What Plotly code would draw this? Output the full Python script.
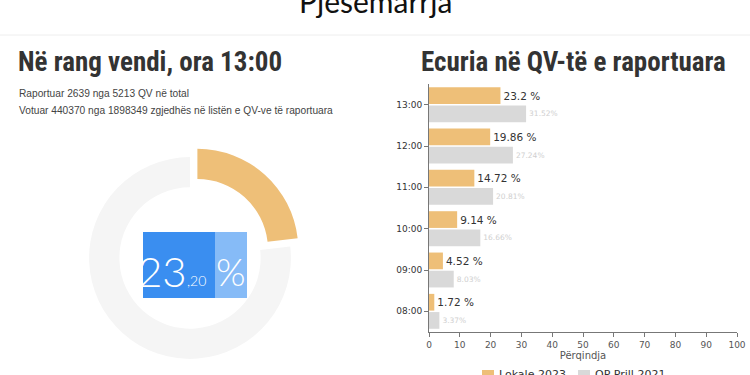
import plotly.graph_objects as go

# ---- data ----
hours = ["13:00", "12:00", "11:00", "10:00", "09:00", "08:00"]
turnout_2023 = [23.2, 19.86, 14.72, 9.14, 4.52, 1.72]
turnout_2021 = [31.52, 27.24, 20.81, 16.66, 8.03, 3.37]
series_names = ["Lokale 2023", "QP Prill 2021"]
donut_labels = ["Votuar", "Pa votuar"]
donut_values = [23.20, 76.80]
x_ticks = [0, 10, 20, 30, 40, 50, 60, 70, 80, 90, 100]

ORANGE = "#eebf78"
GRAY = "#d9d9d9"
W, H = 750, 375

def px(x):
    return x / W

def py(y):
    return 1 - y / H

fig = go.Figure()

# donut
fig.add_trace(go.Pie(
    labels=donut_labels, values=donut_values, hole=0.7, sort=False,
    direction="clockwise", rotation=0, pull=[0.11, 0],
    marker=dict(colors=[ORANGE, "#f5f5f5"], line=dict(width=0)),
    textinfo="none", hoverinfo="label+value", showlegend=False,
    domain=dict(x=[px(78), px(302)], y=[py(370), py(146)]),
))

# bars
fig.add_trace(go.Bar(
    y=hours, x=turnout_2023, orientation="h", name=series_names[0],
    marker=dict(color=ORANGE, line=dict(width=0)),
    text=[f"{v:g} %" for v in turnout_2023], textposition="outside",
    textfont=dict(family="DejaVu Sans", size=10.5, color="#333"),
    cliponaxis=False, showlegend=False,
))
fig.add_trace(go.Bar(
    y=hours, x=turnout_2021, orientation="h", name=series_names[1],
    marker=dict(color=GRAY, line=dict(width=0)),
    text=[f"{v:.2f}%" for v in turnout_2021], textposition="outside",
    textfont=dict(family="DejaVu Sans", size=7.5, color="#cfcfcf"),
    cliponaxis=False, showlegend=False,
))

fig.update_layout(
    template="none",
    width=W, height=H, margin=dict(l=0, r=0, t=0, b=0, autoexpand=False),
    paper_bgcolor="white", plot_bgcolor="white",
    barmode="group", bargap=0.12, bargroupgap=0.08,
    xaxis=dict(domain=[px(429), px(737)], range=[0, 100], tickvals=x_ticks,
               automargin=False,
               showgrid=False, zeroline=False, showline=True, linecolor="#777",
               ticks="outside", ticklen=4, tickcolor="#777",
               tickfont=dict(family="DejaVu Sans", size=9, color="#555"),
               title=dict(text="Përqindja", standoff=2,
                          font=dict(family="DejaVu Sans", size=10, color="#555"))),
    yaxis=dict(domain=[py(332), py(84)], autorange="reversed", automargin=False,
               showgrid=False, zeroline=False, showline=True, linecolor="#777",
               ticks="outside", ticklen=4, tickcolor="#777",
               tickfont=dict(family="DejaVu Sans", size=9, color="#333")),
)

shapes = []
annotations = []

# top separator line
shapes.append(dict(type="line", xref="paper", yref="paper", x0=0, x1=1, y0=py(35), y1=py(35),
                   line=dict(color="#eeeeee", width=1)))

# page title (cut at top)
annotations.append(dict(text="Pjesemarrja", xref="paper", yref="paper", x=px(375), y=py(21),
                        xanchor="center", yanchor="bottom", showarrow=False,
                        font=dict(family="Lato", size=30, color="#111")))

head_font = dict(family="Roboto Condensed, Liberation Sans Narrow, DejaVu Sans Condensed, Roboto",
                 size=27, color="#333", weight="bold")
annotations.append(dict(text="Në rang vendi, ora 13:00", xref="paper", yref="paper",
                        x=px(16), y=py(62), xanchor="left", yanchor="middle", showarrow=False,
                        font=head_font))
annotations.append(dict(text="Ecuria në QV-të e raportuara", xref="paper", yref="paper",
                        x=px(573), y=py(62), xanchor="center", yanchor="middle", showarrow=False,
                        font=head_font))

small = dict(family="Liberation Sans, Arial, sans-serif", size=10.2, color="#444")
annotations.append(dict(text="Raportuar 2639 nga 5213 QV në total", xref="paper", yref="paper",
                        x=px(17), y=py(94), xanchor="left", yanchor="middle", showarrow=False, font=small))
annotations.append(dict(text="Votuar 440370 nga 1898349 zgjedhës në listën e QV-ve të raportuara",
                        xref="paper", yref="paper",
                        x=px(17), y=py(110), xanchor="left", yanchor="middle", showarrow=False, font=small))

# center box of donut
shapes.append(dict(type="rect", xref="paper", yref="paper", x0=px(143), x1=px(215),
                   y0=py(298), y1=py(232), fillcolor="#3a8ef0", line=dict(width=0), layer="above"))
shapes.append(dict(type="rect", xref="paper", yref="paper", x0=px(215), x1=px(247),
                   y0=py(298), y1=py(232), fillcolor="#86bbf7", line=dict(width=0), layer="above"))
val = donut_values[0]
whole, frac = f"{val:.2f}".split(".")
annotations.append(dict(text=whole, xref="paper", yref="paper", x=px(189), y=py(298),
                        xanchor="right", yanchor="bottom", showarrow=False,
                        font=dict(family="Lato", size=42, color="white", weight=300)))
annotations.append(dict(text="," + frac, xref="paper", yref="paper", x=px(185), y=py(291),
                        xanchor="left", yanchor="bottom", showarrow=False,
                        font=dict(family="Lato", size=14, color="white", weight=300)))
annotations.append(dict(text="%", xref="paper", yref="paper", x=px(231), y=py(296),
                        xanchor="center", yanchor="bottom", showarrow=False,
                        font=dict(family="Lato", size=38, color="white", weight=300)))

# legend (manual, cut off at bottom)
leg_font = dict(family="DejaVu Sans", size=11, color="#333")
shapes.append(dict(type="rect", xref="paper", yref="paper", x0=px(482), x1=px(494),
                   y0=py(380), y1=py(370), fillcolor=ORANGE, line=dict(width=0)))
annotations.append(dict(text=series_names[0], xref="paper", yref="paper", x=px(497), y=py(366),
                        xanchor="left", yanchor="top", showarrow=False, font=leg_font))
shapes.append(dict(type="rect", xref="paper", yref="paper", x0=px(578), x1=px(590),
                   y0=py(380), y1=py(370), fillcolor=GRAY, line=dict(width=0)))
annotations.append(dict(text=series_names[1], xref="paper", yref="paper", x=px(593), y=py(366),
                        xanchor="left", yanchor="top", showarrow=False, font=leg_font))

fig.update_layout(shapes=shapes, annotations=annotations)
fig.write_html("out.html", config={"displayModeBar": False},
               post_script="document.body.style.margin='0';")
